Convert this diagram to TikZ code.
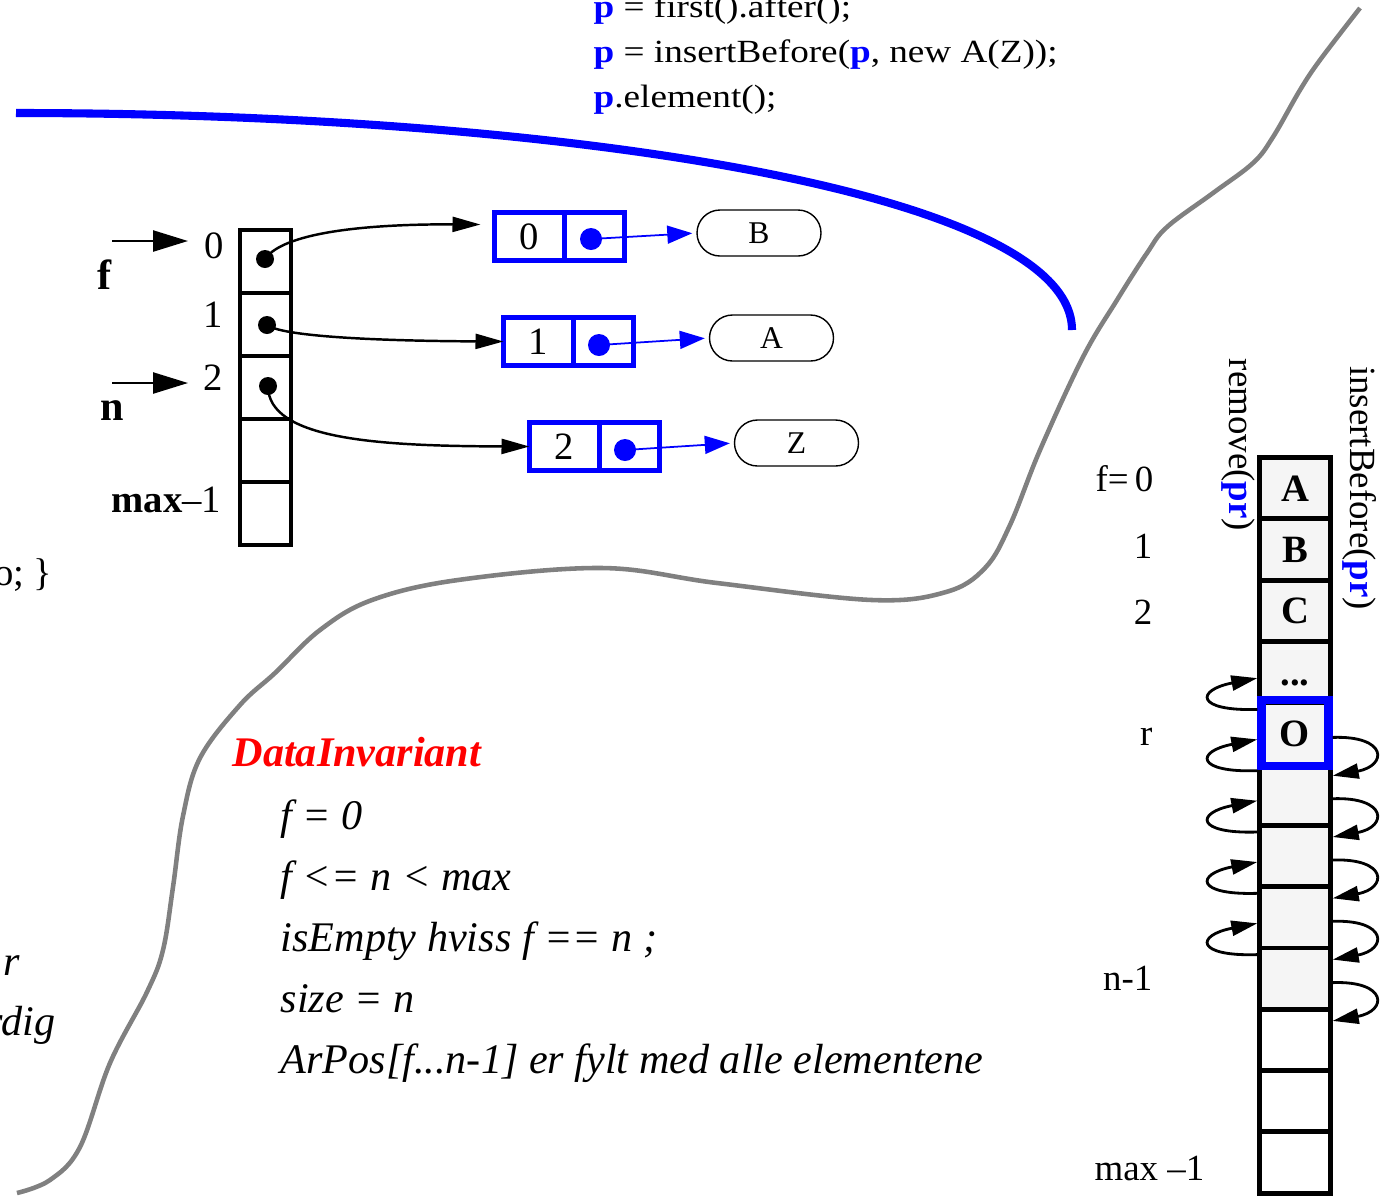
\documentclass[tikz,border=0pt]{standalone}
\usepackage{fontspec}
\setmainfont{Liberation Serif}
\newfontfamily\codefont[FakeStretch=1.15]{Liberation Serif}
\usepackage{tikz}
\usetikzlibrary{arrows.meta,calc,shapes.misc}
\tikzset{
  cell/.style={draw=black, line width=1.4pt, minimum width=5.1mm, minimum height=6.3mm, inner sep=0pt},
  slot/.style={draw=black, line width=1.4pt, fill=black!4, minimum width=7.05mm, minimum height=6.13mm, inner sep=0pt, text height=2.6mm, text depth=0pt, font=\fontsize{11}{13}\selectfont\bfseries},
  emptyslot/.style={slot, fill=white},
  selbox/.style={draw=blue, line width=2.3pt, minimum width=6.7mm, minimum height=6.6mm, inner sep=0pt},
  keycell/.style={draw=blue, line width=1.4pt, minimum width=7mm, minimum height=4.8mm, inner sep=0pt, outer sep=0pt},
  ptrcell/.style={keycell, minimum width=6mm},
  pill/.style={draw=black, line width=0.4pt, rounded rectangle, minimum width=12.4mm, minimum height=4.6mm, inner sep=0pt, font=\fontsize{9}{11}\selectfont},
  dot/.style={circle, fill=black, minimum size=1.8mm, inner sep=0pt},
  bluedot/.style={circle, fill=blue, minimum size=2.2mm, inner sep=0pt},
  lbl/.style={inner sep=0pt},
  rlbl/.style={inner sep=0pt, anchor=east, font=\fontsize{10.5}{12}\selectfont},
  arrow/.style={-{Triangle[length=3.5mm,width=2.1mm]}, line width=0.7pt},
  curvearrow/.style={-{Triangle[length=2.8mm,width=1.5mm]}, line width=0.7pt},
  bluearrow/.style={-{Triangle[length=2.5mm,width=1.8mm]}, draw=blue, line width=0.5pt, shorten >=0.4mm},
  looparrow/.style={-{Triangle[length=2.6mm,width=1.5mm]}, line width=0.8pt},
  code/.style={anchor=base west, inner sep=0pt, font=\codefont\fontsize{9.2}{11}\selectfont},
  inv/.style={anchor=base west, inner sep=0pt, font=\fontsize{12}{14}\selectfont\itshape}
}

\begin{document}
\begin{tikzpicture}[x=0.1mm, y=-0.1mm, font=\fontsize{11}{13}\selectfont]
\useasboundingbox (0,0) rectangle (1390,1196);
\clip (0,0) rectangle (1390,1196);

% borders between the parts of the slide
\draw[blue, line width=2.3pt] (16,113) .. controls (550,113) and (1072,190) .. (1072,330);
\draw[black!50, line width=1.3pt] plot[smooth, tension=0.6] coordinates {
  (17,1193) (50,1180) (80,1147) (110,1063) (147,992) (163,950) (173,887)
  (183,816) (200,758) (240,705) (275,673) (320,630) (372,600) (458,580)
  (602,568) (717,583) (872,600) (946,592) (985,568) (1010,525) (1040,450)
  (1083,357) (1117,300) (1147,253) (1167,227) (1213,193) (1253,163)
  (1273,137) (1300,90) (1320,60) (1360,8)};

% code
\node[code] (c1) at (593,17) {\textbf{\color{blue}p} = first().after();};
\node[code] (c2) at (593,62) {\textbf{\color{blue}p} = insertBefore(\textbf{\color{blue}p}, new A(Z));};
\node[code] (c3) at (593,107) {\textbf{\color{blue}p}.element();};

% array of positions
\node[cell] (a0) at (265.5,261.5) {};
\node[cell] (a1) at (265.5,324.5) {};
\node[cell] (a2) at (265.5,387.5) {};
\node[cell] (a3) at (265.5,450.5) {};
\node[cell] (a4) at (265.5,513.5) {};
\node[lbl, anchor=east] (l0) at (225,246) {0};
\node[lbl, anchor=east] (l1) at (224,315) {1};
\node[lbl, anchor=east] (l2) at (224,378) {2};
\node[lbl, anchor=east] (lmax) at (222,500) {\textbf{max}--1};
\node[lbl, font=\fontsize{12}{14}\selectfont\bfseries] (fl) at (105,275) {f};
\node[lbl, font=\fontsize{12}{14}\selectfont\bfseries] (nl) at (112,411) {n};
\coordinate (ft) at (112,241);
\coordinate (fh) at (188,241);
\coordinate (nt) at (112,383);
\coordinate (nh) at (188,383);
\draw[arrow] (ft) -- (fh);
\draw[arrow] (nt) -- (nh);
\node[dot] (d0) at (265,259) {};
\node[dot] (d1) at (267,325) {};
\node[dot] (d2) at (268,386) {};

% positions
\node[keycell] (k0) at (529.5,236.5) {0};
\node[ptrcell, anchor=west] (p0) at (k0.east) {};
\node[keycell] (k1) at (538.5,341.5) {1};
\node[ptrcell, anchor=west] (p1) at (k1.east) {};
\node[keycell] (k2) at (564.5,446.5) {2};
\node[ptrcell, anchor=west] (p2) at (k2.east) {};
\node[bluedot] (bd0) at (591,239) {};
\node[bluedot] (bd1) at (599,345) {};
\node[bluedot] (bd2) at (625,450) {};
\node[pill] (pB) at (759,233) {B};
\node[pill] (pA) at (771.5,338) {A};
\node[pill] (pZ) at (796.5,443) {Z};
\draw[curvearrow] (d0.center) .. controls (285,230) and (380,224) .. ([shift={(-14,-12)}]k0.west);
\draw[curvearrow] (d1.center) .. controls (285,338) and (400,341) .. (k1.west);
\draw[curvearrow] (d2.center) .. controls (268,440) and (380,446) .. (k2.west);
\draw[bluearrow] (bd0.center) -- (pB.west);
\draw[bluearrow] (bd1.center) -- (pA.west);
\draw[bluearrow] (bd2.center) -- (pZ.west);

% the list in an array
\node[slot] (r0) at (1295,488.2) {A};
\node[slot] (r1) at (1295,549.5) {B};
\node[slot] (r2) at (1295,610.8) {C};
\node[slot] (r3) at (1295,672.1) {...};
\node[slot] (r4) at (1295,733.4) {O};
\node[slot] (r5) at (1295,794.7) {};
\node[slot] (r6) at (1295,856.0) {};
\node[slot] (r7) at (1295,917.3) {};
\node[slot] (r8) at (1295,978.6) {};
\node[emptyslot] (r9) at (1295,1039.9) {};
\node[emptyslot] (r10) at (1295,1101.2) {};
\node[emptyslot] (r11) at (1295,1162.5) {};
\node[selbox] (sel) at (r4.center) {};
\node[rlbl] (rf) at (1154,479) {f=\,0};
\node[rlbl] (r1l) at (1153,546) {1};
\node[rlbl] (r2l) at (1153,612) {2};
\node[rlbl] (rrl) at (1153,737) {r};
\node[rlbl] (rnl) at (1153,978) {n-1};
\node[rlbl] (rml) at (1205,1168) {max --1};
\node[rotate=-90, inner sep=0pt, font=\fontsize{10.5}{12}\selectfont] (rm) at (1238,445) {remove(\textbf{\color{blue}pr})};
\node[rotate=-90, inner sep=0pt, font=\fontsize{10.5}{12}\selectfont] (ib) at (1360,488) {insertBefore(\textbf{\color{blue}pr})};

% remove moves up, insertBefore moves down
\draw[looparrow] ([yshift=2.4mm]r4.west) .. controls +(-62,2) and +(-62,12) .. ([yshift=-0.6mm]r3.west);
\draw[looparrow] ([yshift=2.4mm]r5.west) .. controls +(-62,2) and +(-62,12) .. ([yshift=-0.6mm]r4.west);
\draw[looparrow] ([yshift=2.4mm]r6.west) .. controls +(-62,2) and +(-62,12) .. ([yshift=-0.6mm]r5.west);
\draw[looparrow] ([yshift=2.4mm]r7.west) .. controls +(-62,2) and +(-62,12) .. ([yshift=-0.6mm]r6.west);
\draw[looparrow] ([yshift=2.4mm]r8.west) .. controls +(-62,2) and +(-62,12) .. ([yshift=-0.6mm]r7.west);
\draw[looparrow] ([yshift=-0.4mm]r4.east) .. controls +(55,-2) and +(55,-10) .. ([yshift=1.9mm]r5.east);
\draw[looparrow] ([yshift=-0.4mm]r5.east) .. controls +(55,-2) and +(55,-10) .. ([yshift=1.9mm]r6.east);
\draw[looparrow] ([yshift=-0.4mm]r6.east) .. controls +(55,-2) and +(55,-10) .. ([yshift=1.9mm]r7.east);
\draw[looparrow] ([yshift=-0.4mm]r7.east) .. controls +(55,-2) and +(55,-10) .. ([yshift=1.9mm]r8.east);
\draw[looparrow] ([yshift=-0.4mm]r8.east) .. controls +(55,-2) and +(55,-10) .. ([yshift=1.9mm]r9.east);

% invariant
\node[inv, font=\fontsize{12}{14}\selectfont\bfseries\itshape, text=red] (di) at (232,766) {DataInvariant};
\node[inv] (i1) at (280,829) {f = 0};
\node[inv] (i2) at (280,890) {f <= n < max};
\node[inv] (i3) at (280,951) {isEmpty hviss f == n ;};
\node[inv] (i4) at (280,1012) {size = n};
\node[inv] (i5) at (280,1073) {ArPos[f...n-1] er fylt med alle elementene};

% text cut off at the left edge
\node[lbl, anchor=base east] (t1) at (53,585) {o; \}};
\node[inv] (t2) at (3,975) {r};
\node[inv, anchor=base east] (t3) at (56,1035) {rdig};
\end{tikzpicture}
\end{document}
